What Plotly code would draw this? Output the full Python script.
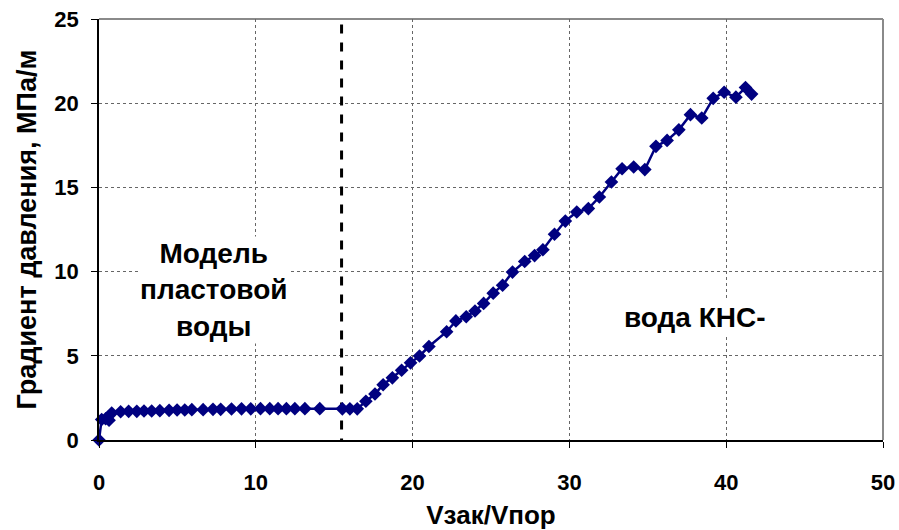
import plotly.graph_objects as go

# Data
x_vals = [0, 0.17, 0.42, 0.64, 0.81, 1.38, 1.89, 2.41, 2.87, 3.36, 3.88, 4.47, 4.98,
          5.47, 5.92, 6.64, 7.27, 7.76, 8.45, 9.09, 9.68, 10.30, 10.89, 11.42, 11.95,
          12.49, 13.13, 14.08, 15.52, 16.00, 16.47, 17.02, 17.60, 18.12, 18.71, 19.30,
          19.87, 20.44, 21.04, 22.17, 22.76, 23.42, 23.98, 24.53, 25.14, 25.74, 26.37,
          27.15, 27.78, 28.31, 29.05, 29.74, 30.47, 31.21, 31.91, 32.68, 33.36, 34.10,
          34.81, 35.52, 36.23, 36.98, 37.72, 38.44, 39.17, 39.87, 40.62, 41.23, 41.62]
y_vals = [0, 1.22, 1.26, 1.18, 1.60, 1.68, 1.70, 1.70, 1.72, 1.72, 1.74, 1.76, 1.78,
          1.78, 1.80, 1.80, 1.82, 1.82, 1.84, 1.85, 1.85, 1.86, 1.86, 1.86, 1.86,
          1.86, 1.86, 1.86, 1.85, 1.85, 1.85, 2.30, 2.73, 3.28, 3.69, 4.14,
          4.58, 4.99, 5.55, 6.43, 7.07, 7.32, 7.66, 8.11, 8.72, 9.19, 9.97,
          10.60, 10.95, 11.30, 12.22, 13.00, 13.54, 13.74, 14.43, 15.32, 16.11, 16.21,
          16.06, 17.44, 17.79, 18.42, 19.32, 19.12, 20.29, 20.65, 20.36, 20.93, 20.54]

boundary_x = 15.47
x_ticks = [0, 10, 20, 30, 40, 50]
y_ticks = [0, 5, 10, 15, 20, 25]
x_title = "Vзак/Vпор"
y_title = "Градиент давления, МПа/м"
label_left = "Модель<br>пластовой<br>воды"
label_right = "вода КНС-"

FONT = "Liberation Sans, Arial, sans-serif"

fig = go.Figure()

# dashed boundary line
fig.add_trace(go.Scatter(
    x=[boundary_x, boundary_x], y=[-0.45, 25], mode="lines",
    line=dict(color="black", width=3, dash="dash"),
    hoverinfo="skip", showlegend=False, cliponaxis=False))

fig.add_trace(go.Scatter(
    x=x_vals, y=y_vals, mode="lines+markers",
    line=dict(color="#000080", width=2.5),
    marker=dict(symbol="diamond", size=10.5, color="#000080"),
    showlegend=False, cliponaxis=False))

fig.add_annotation(x=7.3, y=8.9, text=label_left, showarrow=False,
                   font=dict(family=FONT, size=28, color="black", weight="bold"),
                   bgcolor="white", align="center")
fig.add_annotation(x=38.0, y=7.3, text=label_right, showarrow=False,
                   font=dict(family=FONT, size=28, color="black", weight="bold"),
                   bgcolor="white", align="center")

# gray plot-area border on top and right
fig.add_shape(type="line", xref="paper", yref="paper", x0=0, x1=1, y0=1, y1=1,
              line=dict(color="#8a8a8a", width=2), layer="below")
fig.add_shape(type="line", xref="paper", yref="paper", x0=1, x1=1, y0=0, y1=1,
              line=dict(color="#8a8a8a", width=2), layer="below")

fig.update_layout(
    width=899, height=530,
    margin=dict(l=99, r=16, t=19, b=90),
    paper_bgcolor="white", plot_bgcolor="white",
    font=dict(family=FONT, color="black"),
    xaxis=dict(
        range=[0, 50], tickvals=x_ticks, ticktext=[str(v) for v in x_ticks],
        showline=True, linecolor="black", linewidth=1.5,
        ticks="outside", ticklen=6, tickcolor="black",
        ticklabelstandoff=16, automargin=False,
        showgrid=True, gridcolor="#666666", griddash="dot", gridwidth=1,
        zeroline=False,
        tickfont=dict(family=FONT, size=22, weight="bold"),
        title=dict(text=x_title, font=dict(family=FONT, size=26, weight="bold"), standoff=18),
    ),
    yaxis=dict(
        range=[0, 25], tickvals=y_ticks, ticktext=[str(v) for v in y_ticks],
        showline=True, linecolor="black", linewidth=1.5,
        ticks="outside", ticklen=6, tickcolor="black",
        ticklabelstandoff=8, automargin=False,
        showgrid=True, gridcolor="#666666", griddash="dot", gridwidth=1,
        zeroline=False,
        tickfont=dict(family=FONT, size=22, weight="bold"),
        title=dict(text=y_title, font=dict(family=FONT, size=27, weight="bold"), standoff=10),
    ),
)

fig.write_html("out.html")
